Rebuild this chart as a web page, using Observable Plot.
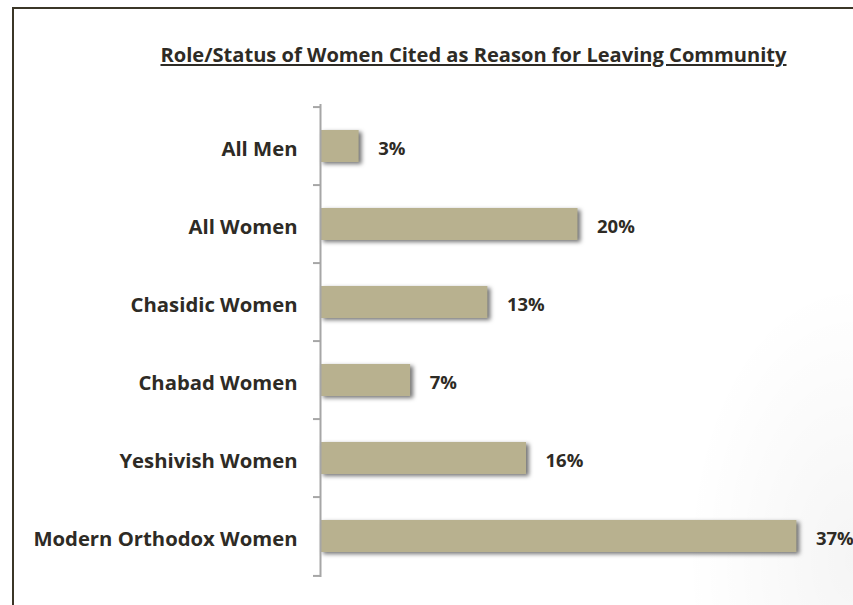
<!DOCTYPE html>
<html>
<head>
<meta charset="utf-8">
<script src="https://cdn.jsdelivr.net/npm/d3@7"></script>
<script src="https://cdn.jsdelivr.net/npm/@observablehq/plot@0.6"></script>
<style>
  html, body { margin: 0; padding: 0; background: #fff; }
  #wrap {
    position: relative; width: 853px; height: 605px; overflow: hidden;
    background: radial-gradient(ellipse 240px 400px at 853px 560px, rgba(0,0,0,0.04), rgba(0,0,0,0) 70%), #fff;
    font-family: "Open Sans", sans-serif;
  }
  #frame {
    position: absolute; left: 12px; top: 7px; right: -10px; bottom: -10px;
    border-left: 2px solid #3b3627; border-top: 2px solid #3b3627;
  }
  #title {
    position: absolute; left: 100px; width: 747px; top: 44px;
    text-align: center; font-size: 20.1px; font-weight: 700; color: #2e2b25;
    text-decoration: underline; text-decoration-thickness: 2px; text-underline-offset: 2px;
    line-height: 22px; white-space: nowrap;
  }
  #chart { position: absolute; left: 0; top: 0; }
  .bar rect { filter: drop-shadow(3px 2px 2px rgba(0,0,0,0.55)); }
</style>
</head>
<body>
<div id="wrap">
  <div id="frame"></div>
  <div id="chart"></div>
  <div id="title">Role/Status of Women Cited as Reason for Leaving Community</div>
</div>
<script>
const categories = ["All Men", "All Women", "Chasidic Women", "Chabad Women", "Yeshivish Women", "Modern Orthodox Women"];
const values = [3, 20, 13, 7, 16, 37];
const data = categories.map((c, i) => ({category: c, value: values[i]}));

const W = 853, H = 605, mt = 104, mb = 28, ml = 320, mr = 18;
const step = (H - mt - mb) / categories.length;
const axisColor = "#a6a6a6";
const textColor = "#2e2b25";

const chart = Plot.plot({
  width: W, height: H,
  marginTop: mt, marginBottom: mb, marginLeft: ml, marginRight: mr,
  style: {background: "transparent", fontFamily: "Open Sans, sans-serif"},
  x: {domain: [0, 40], axis: null},
  y: {domain: categories, paddingInner: 0.59, paddingOuter: 0.295},
  marks: [
    Plot.barX(data, {x: "value", y: "category", fill: "#b8b18f", className: "bar"}),
    Plot.ruleX([0], {stroke: axisColor, strokeWidth: 2}),
    Plot.ruleY(categories, {y: d => d, x1: 0, x2: 0, insetLeft: -7, dy: -step / 2, stroke: axisColor, strokeWidth: 2}),
    Plot.ruleY(categories.slice(-1), {y: d => d, x1: 0, x2: 0, insetLeft: -7, dy: step / 2, stroke: axisColor, strokeWidth: 2}),
    Plot.axisY({tickSize: 0, tickPadding: 23, fontSize: 20.3, fontWeight: 700, fill: textColor, label: null, dy: 3}),
    Plot.text(data, {x: "value", y: "category", text: d => d.value + "%", dx: 19, dy: 3, textAnchor: "start",
      fontSize: 18.5, fontWeight: 700, fill: textColor})
  ]
});
document.getElementById("chart").appendChild(chart);
</script>
</body>
</html>
